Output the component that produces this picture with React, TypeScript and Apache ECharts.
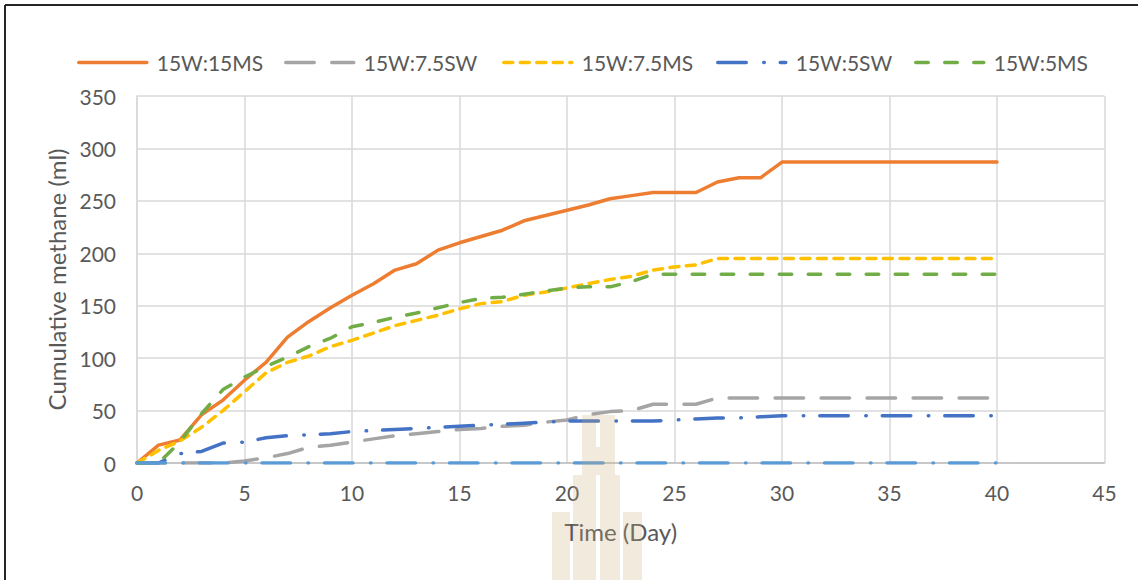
import React, { useEffect, useRef } from "react";
import * as echarts from "echarts";

const days = [0, 1, 2, 3, 4, 5, 6, 7, 8, 9, 10, 11, 12, 13, 14, 15, 16, 17, 18, 19, 20, 21, 22, 23, 24, 25, 26, 27, 28, 29, 30, 31, 32, 33, 34, 35, 36, 37, 38, 39, 40];

const s15W15MS = [0, 17, 22, 46, 60, 79, 96, 120, 135, 148, 160, 171, 184, 190, 203, 210, 216, 222, 231, 236, 241, 246, 252, 255, 258, 258, 258, 268, 272, 272, 287, 287, 287, 287, 287, 287, 287, 287, 287, 287, 287];
const s15W75SW = [0, 0, 0, 0, 0, 2, 5, 9, 15, 17, 20, 23, 26, 28, 30, 32, 33, 35, 36, 39, 41, 46, 49, 50, 56, 56, 56, 62, 62, 62, 62, 62, 62, 62, 62, 62, 62, 62, 62, 62, 62];
const s15W75MS = [0, 12, 21, 34, 50, 68, 86, 96, 102, 111, 117, 124, 131, 136, 141, 147, 152, 154, 160, 163, 167, 171, 175, 178, 184, 187, 189, 195, 195, 195, 195, 195, 195, 195, 195, 195, 195, 195, 195, 195, 195];
const s15W5SW = [0, 0, 9, 11, 19, 20, 24, 26, 27, 28, 30, 31, 32, 33, 34, 35, 36, 37, 38, 39, 40, 40, 40, 40, 40, 41, 42, 43, 43, 44, 45, 45, 45, 45, 45, 45, 45, 45, 45, 45, 45];
const s15W5MS = [0, 0, 20, 47, 70, 82, 92, 101, 111, 119, 130, 134, 139, 143, 148, 153, 157, 158, 161, 164, 167, 168, 168, 173, 180, 180, 180, 180, 180, 180, 180, 180, 180, 180, 180, 180, 180, 180, 180, 180, 180];
const sControl = [0, 0, 0, 0, 0, 0, 0, 0, 0, 0, 0, 0, 0, 0, 0, 0, 0, 0, 0, 0, 0, 0, 0, 0, 0, 0, 0, 0, 0, 0, 0, 0, 0, 0, 0, 0, 0, 0, 0, 0, 0];

const seriesNames = ["15W:15MS", "15W:7.5SW", "15W:7.5MS", "15W:5SW", "15W:5MS"];
const legendLefts = [77, 284, 502, 716, 914];

const FONT = "Lato";
const TXT = "#595959";

export default function App() {
  const ref = useRef<HTMLDivElement>(null);
  useEffect(() => {
    document.body.style.margin = "0";
    const chart = echarts.init(ref.current!, null, { renderer: "svg" });
    const pts = (vals: number[]) => days.map((d, i) => [d, vals[i]]);
    const mk = (name: string, vals: number[], color: string, type: any) => ({
      name,
      type: "line",
      data: pts(vals),
      symbol: "none",
      showSymbol: false,
      lineStyle: { color, width: 3.5, type, cap: "round", join: "round" },
      itemStyle: { color },
      z: 3,
    });
    const wm = "rgba(200,170,120,0.25)";
    const rect = (x: number, y: number, w: number, h: number) => ({
      type: "rect",
      shape: { x, y, width: w, height: h },
      style: { fill: wm },
      z: 100,
      silent: true,
    });
    chart.setOption({
      animation: false,
      backgroundColor: "#fff",
      grid: { left: 137, right: 33.5, top: 96, bottom: 117, containLabel: false },
      legend: seriesNames.map((n, i) => ({
        data: [n],
        left: legendLefts[i],
        top: 52,
        itemWidth: 68,
        itemHeight: 22,
        padding: 0,
        itemStyle: { opacity: 0 },
        lineStyle: { width: 3.5, cap: "round" },
        textStyle: { fontFamily: FONT, fontSize: 21, color: TXT, padding: [0, 0, 0, 5] },
      })),
      xAxis: {
        type: "value",
        min: 0,
        max: 45,
        interval: 5,
        name: "Time (Day)",
        nameLocation: "middle",
        nameGap: 56,
        nameTextStyle: { fontFamily: FONT, fontSize: 24, color: TXT },
        axisLine: { show: true, onZero: false, lineStyle: { color: "#BFBFBF", width: 1.5 } },
        axisTick: { show: false },
        axisLabel: { fontFamily: FONT, fontSize: 21, color: TXT, margin: 19 },
        splitLine: { show: true, lineStyle: { color: "#D9D9D9", width: 1.5 } },
      },
      yAxis: {
        type: "value",
        min: 0,
        max: 350,
        interval: 50,
        name: "Cumulative methane (ml)",
        nameLocation: "middle",
        nameGap: 66,
        nameRotate: 90,
        nameTextStyle: { fontFamily: FONT, fontSize: 24, color: TXT },
        axisLine: { show: true, lineStyle: { color: "#D9D9D9", width: 1.5 } },
        axisTick: { show: false },
        axisLabel: { fontFamily: FONT, fontSize: 21, color: TXT, margin: 21 },
        splitLine: { show: true, lineStyle: { color: "#D9D9D9", width: 1.5 } },
      },
      series: [
        mk("15W:15MS", s15W15MS, "#ED7D31", "solid"),
        mk("15W:7.5SW", s15W75SW, "#A5A5A5", [28.5, 17.5]),
        mk("15W:7.5MS", s15W75MS, "#FFC000", [9, 7.5]),
        mk("15W:5SW", s15W5SW, "#4472C4", [28.5, 17.5, 0.5, 16]),
        mk("15W:5MS", s15W5MS, "#70AD47", [12.5, 16.5]),
        mk("Control", sControl, "#5B9BD5", [28.5, 17.5, 0.5, 16]),
      ],
      graphic: [
        { type: "line", shape: { x1: 5, y1: 5, x2: 1138, y2: 5 }, style: { stroke: "#262626", lineWidth: 2 }, z: 200, silent: true },
        { type: "line", shape: { x1: 5, y1: 5, x2: 5, y2: 580 }, style: { stroke: "#262626", lineWidth: 2 }, z: 200, silent: true },
        rect(582, 415, 14, 60),
        rect(600, 415, 15, 60),
        rect(596, 415, 4, 8),
        rect(596, 447, 4, 28),
        rect(573, 475, 23, 105),
        rect(600, 475, 20, 105),
        rect(552, 512, 18, 68),
        rect(623, 512, 19, 68),
      ],
    });
    return () => chart.dispose();
  }, []);
  return <div ref={ref} style={{ width: 1138, height: 580, background: "#fff" }} />;
}
